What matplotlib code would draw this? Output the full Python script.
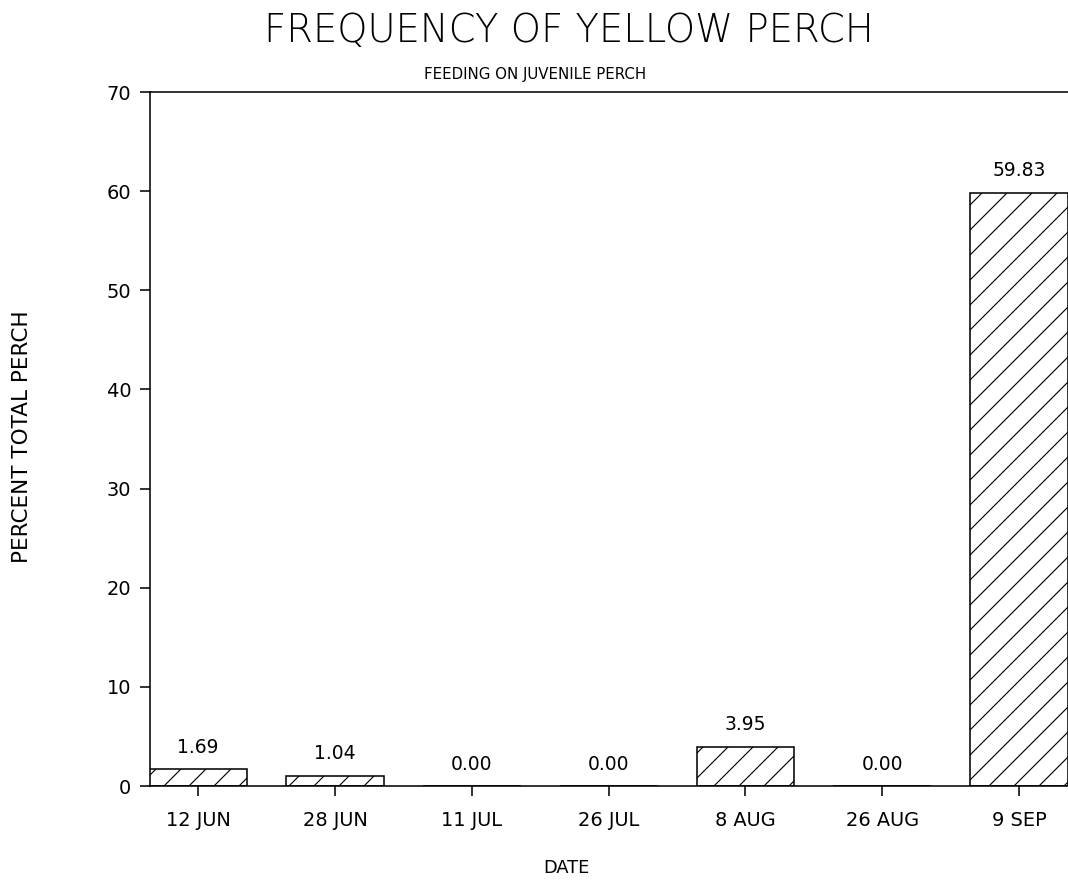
import matplotlib
matplotlib.use('Agg')
import matplotlib.pyplot as plt

dates = ['12 JUN', '28 JUN', '11 JUL', '26 JUL', '8 AUG', '26 AUG', '9 SEP']
percent = [1.69, 1.04, 0.00, 0.00, 3.95, 0.00, 59.83]
y_ticks = [0, 10, 20, 30, 40, 50, 60, 70]

plt.rcParams['font.family'] = ['DejaVu Sans']
plt.rcParams['hatch.linewidth'] = 0.55

fig = plt.figure(figsize=(1068 / 150, 881 / 150), dpi=150)
ax = fig.add_axes([150 / 1068, 95 / 881, 1 - 150 / 1068, 694 / 881])

x = list(range(len(dates)))
ax.bar(x, percent, width=0.715, color='white', edgecolor='black',
       hatch='//', linewidth=0.75)

# value labels above each bar
for xi, v in zip(x, percent):
    ax.annotate('%.2f' % v, (xi, v), xytext=(0, 10.5), textcoords='offset points',
                ha='center', va='center', fontsize=9)

ax.set_xlim(-0.352, 6.357)
ax.set_ylim(0, 70)
ax.set_xticks(x)
ax.set_xticklabels(dates, fontsize=9.3)
ax.set_yticks(y_ticks)
ax.set_yticklabels([str(t) for t in y_ticks], fontsize=9.3)
ax.tick_params(axis='x', direction='out', length=5, width=0.75, pad=7)
ax.tick_params(axis='y', direction='out', length=5, width=0.75, pad=4)

ax.spines['right'].set_visible(False)
for s in ['left', 'top', 'bottom']:
    ax.spines[s].set_linewidth(0.75)

fig.text(22 / 1068, 1 - 437 / 881, 'PERCENT TOTAL PERCH', rotation=90,
         ha='center', va='center', fontsize=10.3)
fig.text(566 / 1068, 1 - 868 / 881, 'DATE', ha='center', va='center', fontsize=8.5)

fig.text(569 / 1068, 1 - 31 / 881, 'FREQUENCY OF YELLOW PERCH', ha='center', va='center',
         fontsize=18.5, fontweight='light')
fig.text(535 / 1068, 1 - 74 / 881, 'FEEDING ON JUVENILE PERCH', ha='center', va='center',
         fontsize=7.2)

fig.savefig('out.png', dpi=150)
